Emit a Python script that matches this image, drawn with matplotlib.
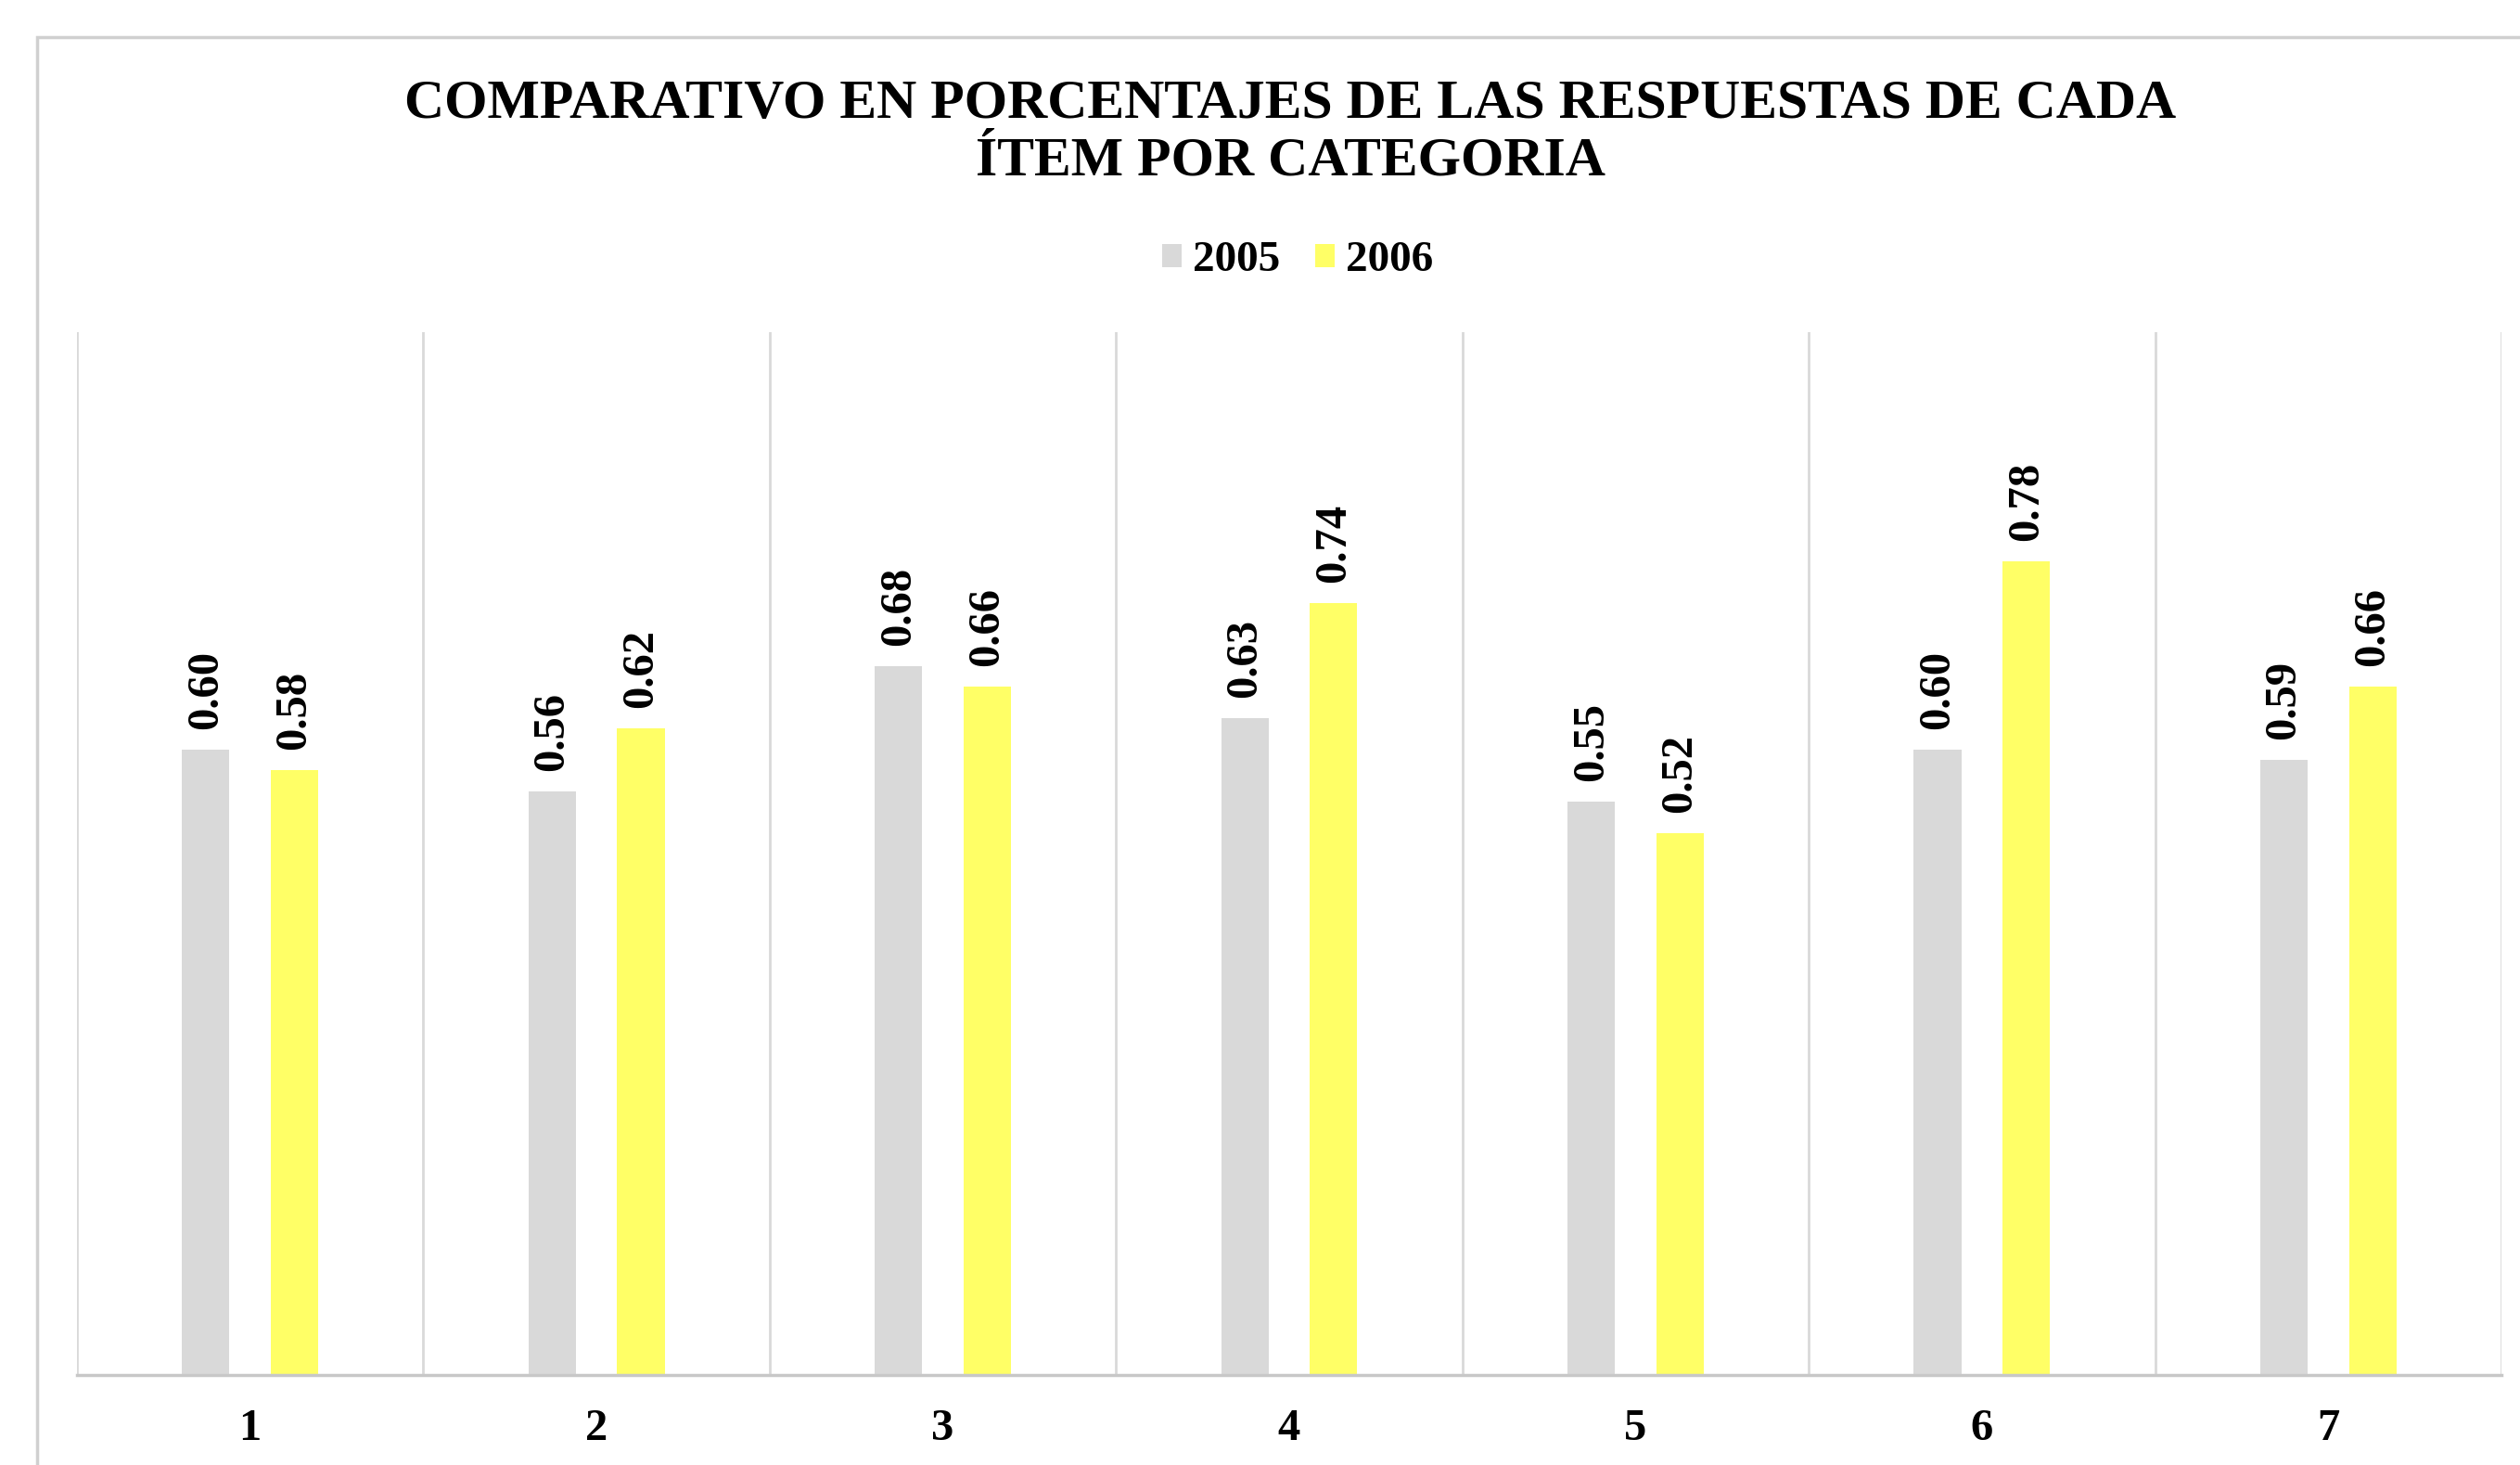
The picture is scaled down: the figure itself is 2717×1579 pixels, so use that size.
import numpy as np
import matplotlib
matplotlib.use("Agg")
import matplotlib.pyplot as plt
from matplotlib.patches import Rectangle

# data
items = ["1", "2", "3", "4", "5", "6", "7"]
years = ["2005", "2006"]
vals_2005 = [0.60, 0.56, 0.68, 0.63, 0.55, 0.60, 0.59]
vals_2006 = [0.58, 0.62, 0.66, 0.74, 0.52, 0.78, 0.66]
colors = ["#d9d9d9", "#ffff66"]

plt.rcParams['font.family'] = ['Liberation Serif', 'DejaVu Serif']
plt.rcParams['font.weight'] = 'bold'

W, H, DPI = 2717, 1579, 100
fig = plt.figure(figsize=(W / DPI, H / DPI), dpi=DPI)

# outer chart frame (cut off at right and bottom like the reference)
fig.patches.append(Rectangle((40 / W, -0.1), 1.2, 1 - 40 / H + 0.1,
                             transform=fig.transFigure, fill=False,
                             edgecolor="#d0d0d0", linewidth=2.5))

ax = fig.add_axes([83 / W, 1 - 1482 / H, (2697 - 83) / W, (1482 - 358) / H])

x = np.arange(len(items))
bw = 0.137
off = 0.128
b1 = ax.bar(x - off, vals_2005, bw, color=colors[0], label=years[0])
b2 = ax.bar(x + off, vals_2006, bw, color=colors[1], label=years[1])

for bars, vals in ((b1, vals_2005), (b2, vals_2006)):
    for r, v in zip(bars, vals):
        ax.annotate(f"{v:.2f}", (r.get_x() + r.get_width() / 2, v),
                    xytext=(0, 22), textcoords="offset pixels",
                    rotation=90, ha="center", va="bottom",
                    fontsize=35, fontweight="bold")

ax.set_xlim(-0.5, len(items) - 0.5)
ax.set_ylim(0, 1.0)
ax.set_xticks(x)
ax.set_xticklabels(items, fontsize=35, fontweight="bold")
ax.set_xticks(np.arange(-0.5, len(items), 1.0), minor=True)
ax.tick_params(axis="x", which="both", length=0, pad=26)
ax.grid(True, axis="x", which="minor", color="#d9d9d9", linewidth=2)
ax.set_yticks([])
for s in ["top", "right", "left"]:
    ax.spines[s].set_visible(False)
ax.spines["bottom"].set_color("#c8c8c8")
ax.spines["bottom"].set_linewidth(2.5)
ax.set_axisbelow(True)

fig.text(0.512, 0.909,
         "COMPARATIVO EN PORCENTAJES DE LAS RESPUESTAS DE CADA\nÍTEM POR CATEGORIA",
         ha="center", va="center", fontsize=43, fontweight="bold",
         linespacing=1.2)

fig.legend(handles=[b1, b2], labels=years, loc="center",
           bbox_to_anchor=(0.515, 0.822), ncol=2, frameon=False,
           fontsize=34, handlelength=0.45, handleheight=0.45,
           handletextpad=0.25, columnspacing=0.8)

fig.savefig("out.png", dpi=DPI, facecolor="white")
